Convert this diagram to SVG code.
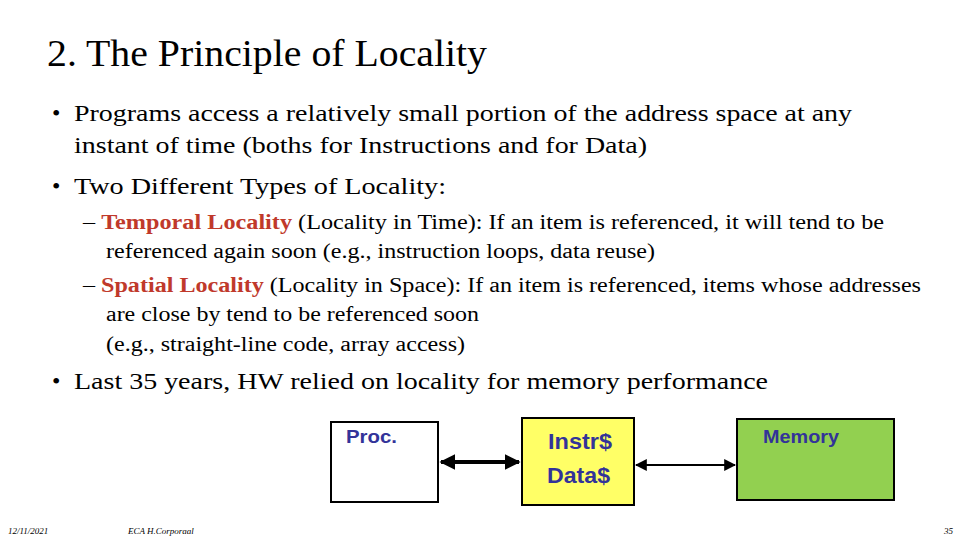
<svg xmlns="http://www.w3.org/2000/svg" width="960" height="540" viewBox="0 0 960 540">
<style>
.t{font-family:"Liberation Serif","Times New Roman",serif;fill:#000}
.b{font-size:24px}
.s{font-size:20px}
.r{fill:#c0392b;font-weight:bold}
.n{font-family:"Liberation Sans",Arial,sans-serif;font-weight:bold;fill:#333399}
.f{font-family:"Liberation Serif",serif;font-style:italic;font-size:9px}
</style>
<defs>
<marker id="ah" viewBox="0 0 10 10" refX="9" refY="5" markerWidth="4" markerHeight="4" orient="auto-start-reverse"><path d="M0,0L10,5L0,10z" fill="#000"/></marker>
<marker id="ah2" viewBox="0 0 10 10" refX="9" refY="5" markerWidth="6" markerHeight="6" orient="auto-start-reverse"><path d="M0,0L10,5L0,10z" fill="#000"/></marker>
</defs>
<rect width="960" height="540" fill="#fff"/>
<text class="t" x="47" y="66" font-size="38" fill="#333" textLength="440" lengthAdjust="spacingAndGlyphs">2. The Principle of Locality</text>
<text class="t b" x="52" y="121">•</text>
<text class="t b" x="74" y="121" textLength="778" lengthAdjust="spacingAndGlyphs">Programs access a relatively small portion of the address space at any</text>
<text class="t b" x="74" y="153" textLength="573" lengthAdjust="spacingAndGlyphs">instant of time (boths for Instructions and for Data)</text>
<text class="t b" x="52" y="194">•</text>
<text class="t b" x="74" y="194" textLength="372" lengthAdjust="spacingAndGlyphs">Two Different Types of Locality:</text>
<text class="t s" x="83" y="229" textLength="801" lengthAdjust="spacingAndGlyphs">– <tspan class="r">Temporal Locality</tspan> (Locality in Time): If an item is referenced, it will tend to be</text>
<text class="t s" x="106" y="258" textLength="549" lengthAdjust="spacingAndGlyphs">referenced again soon (e.g., instruction loops, data reuse)</text>
<text class="t s" x="83" y="292" textLength="838" lengthAdjust="spacingAndGlyphs">– <tspan class="r">Spatial Locality</tspan> (Locality in Space): If an item is referenced, items whose addresses</text>
<text class="t s" x="106" y="321" textLength="373" lengthAdjust="spacingAndGlyphs">are close by tend to be referenced soon</text>
<text class="t s" x="106" y="351" textLength="359" lengthAdjust="spacingAndGlyphs">(e.g., straight-line code, array access)</text>
<text class="t b" x="52" y="389">•</text>
<text class="t b" x="74" y="389" textLength="694" lengthAdjust="spacingAndGlyphs">Last 35 years, HW relied on locality for memory performance</text>
<g id="conn">
<line x1="441" y1="462" x2="519" y2="462" stroke="#000" stroke-width="4" marker-start="url(#ah)" marker-end="url(#ah)"/>
<line x1="636" y1="465" x2="735" y2="465" stroke="#000" stroke-width="2" marker-start="url(#ah2)" marker-end="url(#ah2)"/>
</g>
<g id="proc"><rect x="331" y="422" width="107" height="80" fill="#fff" stroke="#000" stroke-width="2"/><text class="n" x="346" y="443" font-size="18" textLength="51" lengthAdjust="spacingAndGlyphs">Proc.</text></g>
<g id="cache"><rect x="522" y="418" width="112" height="87" fill="#ffff66" stroke="#000" stroke-width="2"/><text class="n" x="548" y="449" font-size="22" textLength="64" lengthAdjust="spacingAndGlyphs">Instr$</text><text class="n" x="547" y="483" font-size="22" textLength="63" lengthAdjust="spacingAndGlyphs">Data$</text></g>
<g id="memory"><rect x="737" y="419" width="157" height="81" fill="#92d050" stroke="#000" stroke-width="2"/><text class="n" x="763" y="443" font-size="18" textLength="76" lengthAdjust="spacingAndGlyphs">Memory</text></g>
<text class="f" x="8" y="534">12/11/2021</text>
<text class="f" x="128" y="534">ECA  H.Corporaal</text>
<text class="f" x="944" y="534">35</text>
</svg>
